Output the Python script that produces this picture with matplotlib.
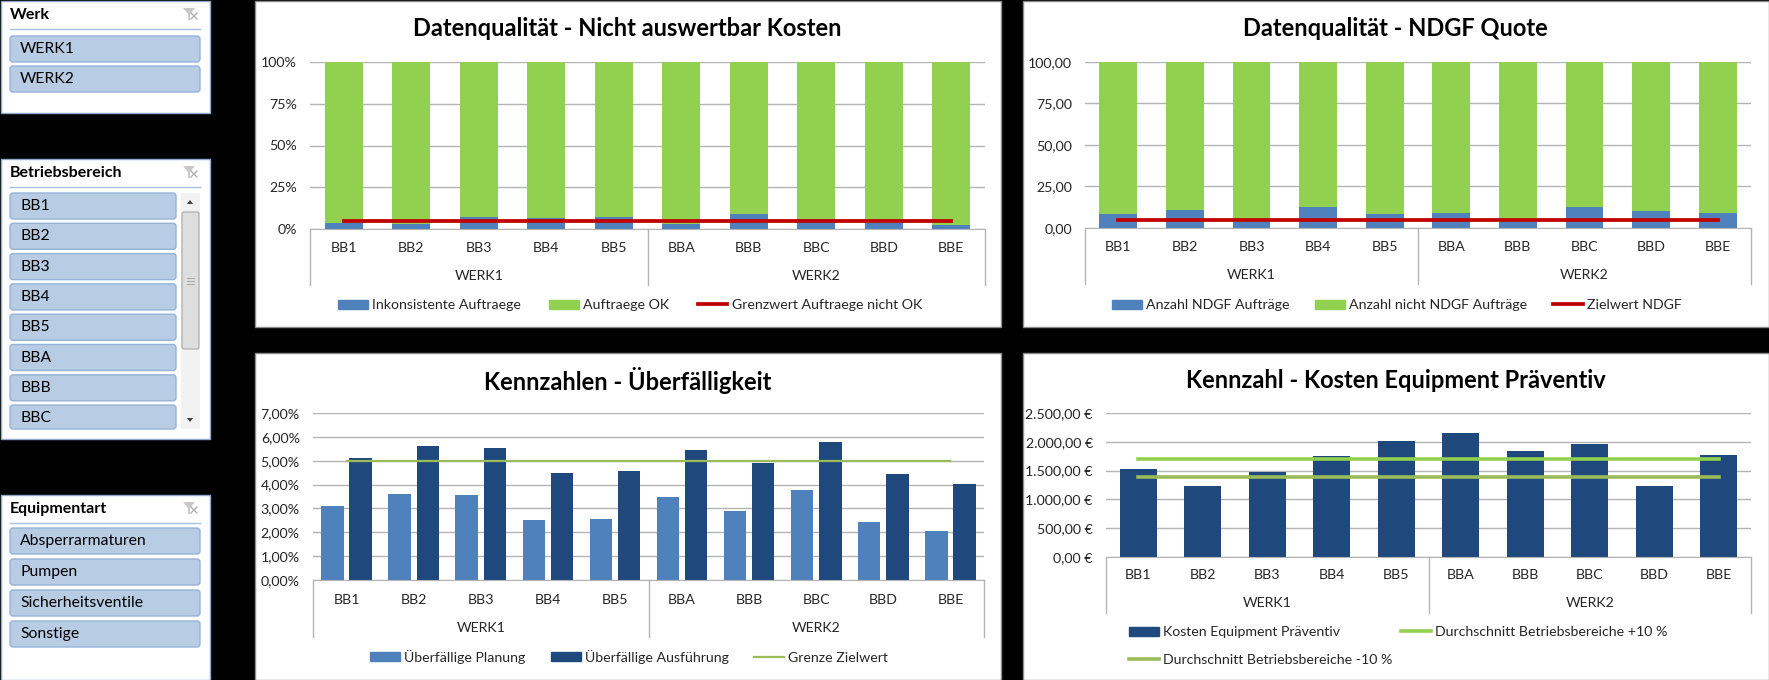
import matplotlib
matplotlib.use('Agg')
import matplotlib.pyplot as plt
from matplotlib.patches import Rectangle, FancyBboxPatch, Polygon, Patch
from matplotlib.lines import Line2D

plt.rcParams['font.family'] = ['Lato', 'DejaVu Sans']

# ---- data ----
werke = ['WERK1', 'WERK2']
bereiche = ['BB1', 'BB2', 'BB3', 'BB4', 'BB5', 'BBA', 'BBB', 'BBC', 'BBD', 'BBE']
equipmentarten = ['Absperrarmaturen', 'Pumpen', 'Sicherheitsventile', 'Sonstige']

# Datenqualitaet - Nicht auswertbar Kosten (percent, 100% stacked)
inkonsistent = [3.4, 3.0, 7.0, 6.4, 7.0, 3.0, 9.0, 6.0, 3.4, 2.6]
auftraege_ok = [100 - v for v in inkonsistent]
grenzwert = 5.0

# Datenqualitaet - NDGF Quote
ndgf = [8.6, 11.0, 5.5, 12.8, 8.2, 9.0, 5.5, 12.8, 10.4, 9.0]
nicht_ndgf = [100 - v for v in ndgf]
zielwert_ndgf = 5.0

# Kennzahlen - Ueberfaelligkeit (percent)
planung = [3.11, 3.62, 3.56, 2.51, 2.57, 3.48, 2.89, 3.77, 2.42, 2.04]
ausfuehrung = [5.11, 5.61, 5.54, 4.50, 4.57, 5.47, 4.89, 5.80, 4.44, 4.04]
grenze_zielwert = 5.0

# Kennzahl - Kosten Equipment Praeventiv (EUR)
kosten = [1529, 1233, 1471, 1750, 2017, 2151, 1843, 1959, 1238, 1773]
schnitt_plus = 1698
schnitt_minus = 1390

blau = '#4F81BD'
dunkelblau = '#1F497D'
gruen = '#92D050'
oliv = '#9BBB59'
rot = '#C00000'
grid_col = '#B4B4B4'
axis_col = '#B4B4B4'
txt = '#262626'
fs = 10.2

W, H = 1769, 680
fig = plt.figure(figsize=(W / 100, H / 100), dpi=100)
fig.patch.set_facecolor('black')
bg = fig.add_axes([0, 0, 1, 1])
bg.set_xlim(0, W)
bg.set_ylim(H, 0)
bg.axis('off')


def box(x0, y0, x1, y1):
    return [x0 / W, 1 - y1 / H, (x1 - x0) / W, (y1 - y0) / H]


def de(v, nd=2):
    s = f"{v:,.{nd}f}"
    return s.replace(',', 'X').replace('.', ',').replace('X', '.')


# ---- slicers ----
def slicer(y0, y1, title, items, btn_top, pitch, btn_w, clip_y=None):
    bg.add_patch(Rectangle((0.5, y0 + 0.5), 209, y1 - y0 - 1, fc='white', ec='#8EA9C8', lw=1))
    bg.text(10, y0 + 15, title, fontsize=11.5, fontweight='bold', ha='left', va='center', color='black')
    bg.plot([10, 200], [y0 + 29, y0 + 29], color='#A7BFDE', lw=1)
    # filter icon
    bg.add_patch(Polygon([(183, y0 + 8), (195, y0 + 8), (190, y0 + 14), (190, y0 + 20),
                          (188, y0 + 20), (188, y0 + 14)], closed=True, fc='#C8C8C8', ec='none'))
    bg.plot([191, 197], [y0 + 13, y0 + 19], color='#B0B0B0', lw=1)
    bg.plot([191, 197], [y0 + 19, y0 + 13], color='#B0B0B0', lw=1)
    for k, it in enumerate(items):
        top = btn_top + k * pitch
        bottom = top + 26
        if clip_y is not None:
            if top >= clip_y:
                break
            bottom = min(bottom, clip_y)
        bg.add_patch(FancyBboxPatch((10, top), btn_w, bottom - top,
                                    boxstyle='round,pad=0,rounding_size=3',
                                    fc='#B8CCE4', ec='#95B3D7', lw=1))
        bg.text(20, top + 13, it, fontsize=11.3, ha='left', va='center', color='black')


slicer(0, 113, 'Werk', werke, 36, 30, 190)
slicer(158, 439, 'Betriebsbereich', bereiche, 193, 30.3, 166, clip_y=429)
slicer(494, 680, 'Equipmentart', equipmentarten, 528, 31, 190)

# scrollbar of the Betriebsbereich slicer
bg.add_patch(Rectangle((181, 193), 19, 236, fc='#F2F2F2', ec='none'))
bg.add_patch(FancyBboxPatch((182, 212), 17, 137, boxstyle='round,pad=0,rounding_size=2',
                            fc='#DEDEDE', ec='#A8A8A8', lw=0.8))
bg.add_patch(Polygon([(187, 204), (193, 204), (190, 200)], closed=True, fc='#404040'))
bg.add_patch(Polygon([(187, 418), (193, 418), (190, 422)], closed=True, fc='#404040'))
for gy in (278, 281, 284):
    bg.plot([187, 194], [gy, gy], color='#9A9A9A', lw=0.6)


# ---- charts ----
def chart(rect, plot, title, title_y):
    x0, y0, x1, y1 = rect
    bg.add_patch(Rectangle((x0 + 0.5, y0 + 0.5), x1 - x0 - 1, y1 - y0 - 1, fc='white', ec='#8C8C8C', lw=1))
    bg.text((x0 + x1) / 2, title_y, title, ha='center', va='center', fontsize=17,
            fontweight='bold', color='black')
    ax = fig.add_axes(box(*plot))
    ax.set_facecolor('none')
    ax.set_xlim(-0.5, len(bereiche) - 0.5)
    for s in ['left', 'right', 'top']:
        ax.spines[s].set_visible(False)
    ax.spines['bottom'].set_color(axis_col)
    ax.set_xticks([])
    ax.tick_params(axis='y', length=0, pad=9.5, labelsize=fs, labelcolor=txt)
    ax.grid(axis='y', color=grid_col, lw=1)
    ax.set_axisbelow(True)
    return ax, plot[3] - plot[1]


def kategorien(ax, h_px, d1, d2, d3):
    for i, b in enumerate(bereiche):
        ax.annotate(b, (i, 0), xycoords=('data', 'axes fraction'), xytext=(0, -d1),
                    textcoords='offset pixels', ha='center', va='center', fontsize=fs, color=txt)
    for j, w in enumerate(werke):
        ax.annotate(w, (2 + 5 * j, 0), xycoords=('data', 'axes fraction'), xytext=(0, -d2),
                    textcoords='offset pixels', ha='center', va='center', fontsize=fs, color=txt)
    for xs in (-0.5, 4.5, 9.5):
        ax.plot([xs, xs], [0, -d3 / h_px], transform=ax.get_xaxis_transform(),
                clip_on=False, color=axis_col, lw=1)


def legende(ax, handles, labels, cx, cy, ncol=3, colsp=2.0, lsp=0.75):
    ax.legend(handles, labels, loc='center', bbox_to_anchor=(cx / W, 1 - cy / H),
              bbox_transform=fig.transFigure, ncol=ncol, frameon=False, fontsize=fs,
              handlelength=2.1, handletextpad=0.3, columnspacing=colsp, labelcolor=txt,
              handleheight=0.6, labelspacing=lsp)


x = list(range(len(bereiche)))

# chart 1
ax1, h1 = chart((254, 0, 1001, 327), (310, 62, 985, 229), 'Datenqualität - Nicht auswertbar Kosten', 28)
ax1.bar(x, inkonsistent, width=0.56, color=blau, zorder=2)
ax1.bar(x, auftraege_ok, width=0.56, bottom=inkonsistent, color=gruen, zorder=2)
ax1.plot([x[0], x[-1]], [grenzwert, grenzwert], color=rot, lw=2.7, zorder=3)
ax1.set_ylim(0, 100)
ax1.set_yticks([0, 25, 50, 75, 100])
ax1.set_yticklabels([f"{v}%" for v in [0, 25, 50, 75, 100]])
kategorien(ax1, h1, 19, 47, 56)
legende(ax1, [Patch(color=blau), Patch(color=gruen), Line2D([], [], color=rot, lw=2.7)],
        ['Inkonsistente Auftraege', 'Auftraege OK', 'Grenzwert Auftraege nicht OK'], 630, 305)

# chart 2
ax2, h2 = chart((1022, 0, 1769, 327), (1085, 62, 1751, 228), 'Datenqualität - NDGF Quote', 28)
ax2.bar(x, ndgf, width=0.57, color=blau, zorder=2)
ax2.bar(x, nicht_ndgf, width=0.57, bottom=ndgf, color=gruen, zorder=2)
ax2.plot([x[0], x[-1]], [zielwert_ndgf, zielwert_ndgf], color=rot, lw=2.7, zorder=3)
ax2.set_ylim(0, 100)
ax2.set_yticks([0, 25, 50, 75, 100])
ax2.set_yticklabels([de(v) for v in [0, 25, 50, 75, 100]])
kategorien(ax2, h2, 19, 47, 56)
legende(ax2, [Patch(color=blau), Patch(color=gruen), Line2D([], [], color=rot, lw=2.7)],
        ['Anzahl NDGF Aufträge', 'Anzahl nicht NDGF Aufträge', 'Zielwert NDGF'], 1397, 305,
        colsp=1.8)

# chart 3
ax3, h3 = chart((254, 352, 1001, 680), (313, 413, 984, 580), 'Kennzahlen - Überfälligkeit', 380)
ax3.bar([i - 0.21 for i in x], planung, width=0.335, color=blau, zorder=2)
ax3.bar([i + 0.21 for i in x], ausfuehrung, width=0.335, color=dunkelblau, zorder=2)
ax3.plot([x[0], x[-1]], [grenze_zielwert, grenze_zielwert], color=oliv, lw=1.6, zorder=3)
ax3.set_ylim(0, 7)
ax3.set_yticks(range(8))
ax3.set_yticklabels([de(v) + '%' for v in range(8)])
kategorien(ax3, h3, 20, 48, 57)
legende(ax3, [Patch(color=blau), Patch(color=dunkelblau), Line2D([], [], color=oliv, lw=1.6)],
        ['Überfällige Planung', 'Überfällige Ausführung', 'Grenze Zielwert'], 629, 657, colsp=1.8)

# chart 4
ax4, h4 = chart((1022, 352, 1769, 680), (1106, 413, 1751, 557), 'Kennzahl - Kosten Equipment Präventiv', 380)
ax4.bar(x, kosten, width=0.57, color=dunkelblau, zorder=2)
ax4.plot([x[0], x[-1]], [schnitt_plus, schnitt_plus], color=gruen, lw=2.6, zorder=3)
ax4.plot([x[0], x[-1]], [schnitt_minus, schnitt_minus], color=oliv, lw=2.6, zorder=3)
ax4.set_ylim(0, 2500)
ax4.set_yticks(range(0, 2501, 500))
ax4.set_yticklabels([de(v) + ' €' for v in range(0, 2501, 500)])
kategorien(ax4, h4, 18, 46, 56)
legende(ax4, [Patch(color=dunkelblau), Line2D([], [], color=oliv, lw=2.6), Line2D([], [], color=gruen, lw=2.6)],
        ['Kosten Equipment Präventiv', 'Durchschnitt Betriebsbereiche -10 %',
         'Durchschnitt Betriebsbereiche +10 %'], 1398, 646, ncol=2, colsp=0.6, lsp=1.1)

fig.savefig('out.png', dpi=100, facecolor=fig.get_facecolor())
